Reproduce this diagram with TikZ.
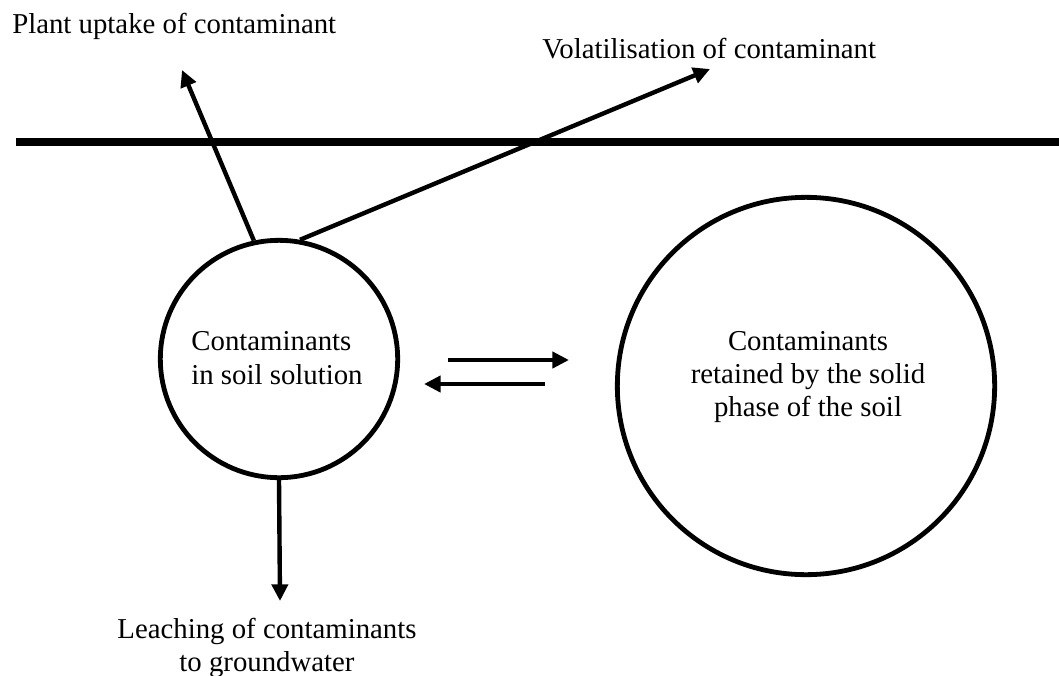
\documentclass[tikz,border=0pt]{standalone}
\usepackage{fontspec}
\setmainfont{Liberation Serif}
\usetikzlibrary{arrows.meta}

\begin{document}
\begin{tikzpicture}[x=0.75pt, y=-0.75pt, font=\fontsize{21.6}{25}\selectfont,
    flow/.style={line width=3.3pt, -{Triangle[length=12.5pt, width=12pt]}},
    pool/.style={circle, draw, line width=3.6pt, inner sep=0pt},
    txt/.style={inner sep=0pt}]
  \useasboundingbox (0,0) rectangle (1059,675);
  \draw [line width=5.6pt] (16,142) -- (1059,142);
  \node [pool, minimum size=178pt] (sol) at (279,359) {};
  \node [pool, minimum size=283pt] (solid) at (806,386) {};
  \node [txt, align=left] (soltext) at (277,358) {Contaminants\\in soil solution};
  \node [txt, align=center] (solidtext) at (808,377) {Contaminants\\retained by the solid\\phase of the soil};
  \foreach \name/\x/\y in {plant/182/70, volat/710/69, leach/280/601, fwdA/448/360, fwdB/569/360, backA/545/384, backB/424/384}{
    \coordinate (\name) at (\x,\y);
  }
  \draw [flow] (sol.102) -- (plant);
  \draw [flow] (sol.80) -- (volat);
  \draw [flow] (sol.south) -- (leach);
  \draw [flow] (fwdA) -- (fwdB);
  \draw [flow] (backA) -- (backB);
  \node [txt, anchor=base west] (uptaketext) at (12,33) {Plant uptake of contaminant};
  \node [txt, anchor=base west] (volattext) at (542,58) {Volatilisation of contaminant};
  \node [txt, align=center, anchor=north] (leachtext) at (267,618) {Leaching of contaminants\\to groundwater};
\end{tikzpicture}
\end{document}
